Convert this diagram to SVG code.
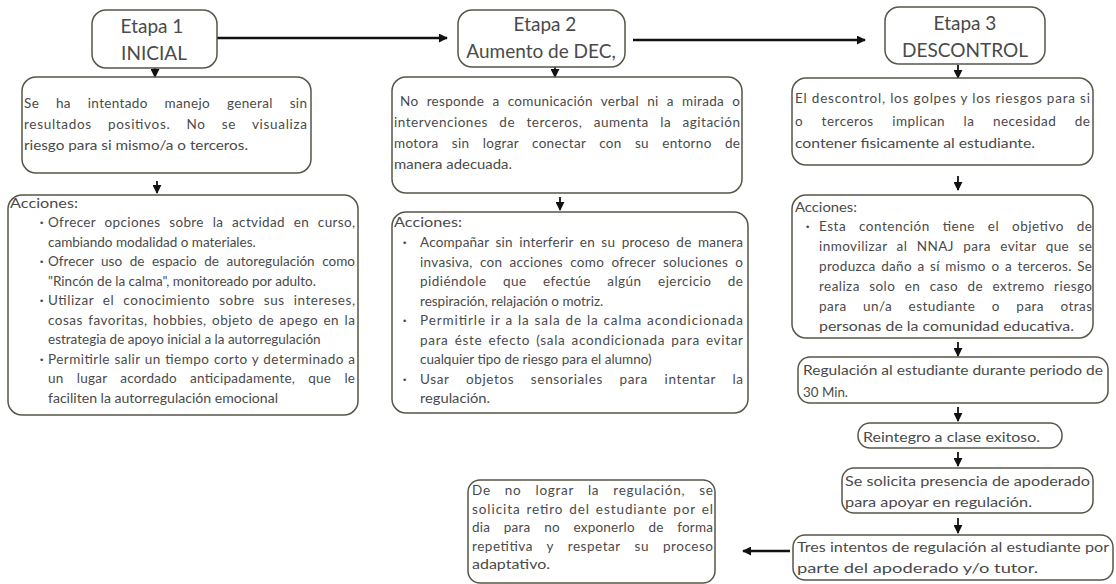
<svg xmlns="http://www.w3.org/2000/svg" width="1116" height="584" viewBox="0 0 1116 584">
<style>
.box{fill:#fff;stroke:#56564a;stroke-width:1.5}
.t{font-family:Lato,"Liberation Sans",sans-serif;font-size:13.5px;fill:#4a4a4a}
.h{font-family:Lato,"Liberation Sans",sans-serif;font-size:19px;fill:#4a4a4a;text-anchor:middle}
.b{font-family:"DejaVu Sans",sans-serif;font-size:9px;fill:#4a4a4a}
.c{stroke:#111;fill:none;marker-end:url(#ah)}
</style>
<defs>
<marker id="ah" viewBox="0 0 10 10" refX="9" refY="5" markerWidth="9" markerHeight="9" markerUnits="userSpaceOnUse" orient="auto">
<path d="M0,0 L10,5 L0,10 z" fill="#111"/>
</marker>
</defs>
<rect width="1116" height="584" fill="#fff"/>
<g id="connectors">
<line class="c" x1="217" y1="38" x2="447" y2="38" stroke-width="2.5"/>
<line class="c" x1="633" y1="40" x2="865" y2="40" stroke-width="2.5"/>
<line class="c" x1="155" y1="68" x2="155" y2="77" stroke-width="1.8"/>
<line class="c" x1="157" y1="181" x2="157" y2="193" stroke-width="1.8"/>
<line class="c" x1="555" y1="67" x2="555" y2="77" stroke-width="1.8"/>
<line class="c" x1="560" y1="197" x2="560" y2="210" stroke-width="1.8"/>
<line class="c" x1="958" y1="65" x2="958" y2="78" stroke-width="1.8"/>
<line class="c" x1="958" y1="176" x2="958" y2="190" stroke-width="1.8"/>
<line class="c" x1="958" y1="342" x2="958" y2="356" stroke-width="1.8"/>
<line class="c" x1="958" y1="407" x2="958" y2="421" stroke-width="1.8"/>
<line class="c" x1="958" y1="452" x2="958" y2="466" stroke-width="1.8"/>
<line class="c" x1="958" y1="518" x2="958" y2="533" stroke-width="1.8"/>
<line class="c" x1="790" y1="551" x2="743" y2="551" stroke-width="2.5"/>
</g>
<g id="etapa1">
<rect class="box" x="92" y="10" width="125" height="58" rx="14"/>
<text class="h" x="152" y="33">Etapa 1</text>
<text class="h" x="154" y="60">INICIAL</text>
</g>
<g id="etapa2">
<rect class="box" x="458" y="10" width="167" height="57" rx="14"/>
<text class="h" x="545" y="31">Etapa 2</text>
<text class="h" x="541" y="58">Aumento de DEC,</text>
</g>
<g id="etapa3">
<rect class="box" x="885" y="7" width="160" height="57" rx="14"/>
<text class="h" x="965" y="30">Etapa 3</text>
<text class="h" x="965" y="57">DESCONTROL</text>
</g>
<g id="desc1">
<rect class="box" x="22" y="77" width="289" height="96" rx="14"/>
<text class="t" x="24" y="108" textLength="283" word-spacing="13">Se ha intentado manejo general sin</text>
<text class="t" x="24" y="129" textLength="283" word-spacing="12">resultados positivos. No se visualiza</text>
<text class="t" x="24" y="150" textLength="224" lengthAdjust="spacingAndGlyphs">riesgo para si mismo/a o terceros.</text>
</g>
<g id="acciones1">
<rect class="box" x="8" y="195" width="350" height="220" rx="14"/>
<text class="t" x="10" y="208" textLength="68" lengthAdjust="spacingAndGlyphs">Acciones:</text>
<text class="b" x="39" y="226">•</text>
<text class="t" x="48" y="227" textLength="307" word-spacing="5">Ofrecer opciones sobre la actvidad en curso,</text>
<text class="t" x="48" y="246.5">cambiando modalidad o materiales.</text>
<text class="b" x="39" y="265">•</text>
<text class="t" x="48" y="266" textLength="307" word-spacing="4">Ofrecer uso de espacio de autoregulación como</text>
<text class="t" x="48" y="285.5">"Rincón de la calma", monitoreado por adulto.</text>
<text class="b" x="39" y="304">•</text>
<text class="t" x="48" y="305" textLength="307" word-spacing="5">Utilizar el conocimiento sobre sus intereses,</text>
<text class="t" x="48" y="324.5" textLength="307" word-spacing="1.5">cosas favoritas, hobbies, objeto de apego en la</text>
<text class="t" x="48" y="344">estrategia de apoyo inicial a la autorregulación</text>
<text class="b" x="39" y="362.5">•</text>
<text class="t" x="48" y="363.5" textLength="307" word-spacing="0.5">Permitirle salir un tiempo corto y determinado a</text>
<text class="t" x="48" y="383" textLength="307" word-spacing="9.5">un lugar acordado anticipadamente, que le</text>
<text class="t" x="48" y="402.5" textLength="230" lengthAdjust="spacingAndGlyphs">faciliten la autorregulación emocional</text>
</g>
<g id="desc2">
<rect class="box" x="392" y="77" width="350" height="116" rx="14"/>
<text class="t" x="400" y="106" textLength="340" word-spacing="4.5">No responde a comunicación verbal ni a mirada o</text>
<text class="t" x="394" y="127" textLength="346" word-spacing="7.5">intervenciones de terceros, aumenta la agitación</text>
<text class="t" x="394" y="148" textLength="346" word-spacing="9.5">motora sin lograr conectar con su entorno de</text>
<text class="t" x="394" y="169" textLength="118" lengthAdjust="spacingAndGlyphs">manera adecuada.</text>
</g>
<g id="acciones2">
<rect class="box" x="392" y="212" width="356" height="201" rx="14"/>
<text class="t" x="394" y="227" textLength="68" lengthAdjust="spacingAndGlyphs">Acciones:</text>
<text class="b" x="402" y="246">•</text>
<text class="t" x="420" y="247" textLength="323" word-spacing="2.8">Acompañar sin interferir en su proceso de manera</text>
<text class="t" x="420" y="266.5" textLength="323" word-spacing="3.5">invasiva, con acciones como ofrecer soluciones o</text>
<text class="t" x="420" y="286" textLength="323" word-spacing="12.5">pidiéndole que efectúe algún ejercicio de</text>
<text class="t" x="420" y="305.5">respiración, relajación o motriz.</text>
<text class="b" x="402" y="324">•</text>
<text class="t" x="420" y="325" textLength="323" word-spacing="0.5">Permitirle ir a la sala de la  calma acondicionada</text>
<text class="t" x="420" y="344.5" textLength="323" word-spacing="2">para éste efecto  (sala acondicionada para evitar</text>
<text class="t" x="420" y="364">cualquier tipo de riesgo para el alumno)</text>
<text class="b" x="402" y="382.5">•</text>
<text class="t" x="420" y="383.5" textLength="323" word-spacing="12.5">Usar objetos sensoriales para intentar la</text>
<text class="t" x="420" y="403" textLength="70" lengthAdjust="spacingAndGlyphs">regulación.</text>
</g>
<g id="desc3">
<rect class="box" x="792" y="78" width="301" height="87" rx="14"/>
<text class="t" x="795" y="103" textLength="295" word-spacing="0">El descontrol, los golpes y los riesgos para si</text>
<text class="t" x="795" y="126" textLength="295" word-spacing="14.5">o terceros implican la necesidad de</text>
<text class="t" x="795" y="148" textLength="240" lengthAdjust="spacingAndGlyphs">contener fisicamente al estudiante.</text>
</g>
<g id="acciones3">
<rect class="box" x="792" y="195" width="301" height="143" rx="14"/>
<text class="t" x="795" y="212" textLength="62" lengthAdjust="spacingAndGlyphs">Acciones:</text>
<text class="b" x="805" y="230">•</text>
<text class="t" x="819" y="231" textLength="273" word-spacing="9">Esta contención tiene el objetivo de</text>
<text class="t" x="819" y="251" textLength="273" word-spacing="5.5">inmovilizar al NNAJ para evitar que se</text>
<text class="t" x="819" y="271" textLength="273" word-spacing="1.8">produzca daño a sí mismo o a terceros. Se</text>
<text class="t" x="819" y="291" textLength="273" word-spacing="5.5">realiza solo en caso de extremo riesgo</text>
<text class="t" x="819" y="311" textLength="273" word-spacing="12.5">para un/a estudiante o para otras</text>
<text class="t" x="819" y="331" textLength="255" lengthAdjust="spacingAndGlyphs">personas de la comunidad educativa.</text>
</g>
<g id="regulacion">
<rect class="box" x="798" y="357" width="310" height="46" rx="12"/>
<text class="t" x="803" y="375" textLength="300" lengthAdjust="spacingAndGlyphs">Regulación al estudiante durante periodo de</text>
<text class="t" x="803" y="397" textLength="45" lengthAdjust="spacingAndGlyphs">30 Min.</text>
</g>
<g id="reintegro">
<rect class="box" x="858" y="423" width="204" height="25" rx="12"/>
<text class="t" x="863" y="442" textLength="177" lengthAdjust="spacingAndGlyphs">Reintegro a clase exitoso.</text>
</g>
<g id="apoderado">
<rect class="box" x="842" y="468" width="251" height="45" rx="12"/>
<text class="t" x="845" y="486" textLength="245" lengthAdjust="spacingAndGlyphs">Se solicita presencia de apoderado</text>
<text class="t" x="845" y="507" textLength="187" lengthAdjust="spacingAndGlyphs">para apoyar en regulación.</text>
</g>
<g id="intentos">
<rect class="box" x="793" y="535" width="320" height="45" rx="12"/>
<text class="t" x="797" y="552" textLength="312" lengthAdjust="spacingAndGlyphs">Tres intentos de regulación al estudiante por</text>
<text class="t" x="797" y="573" textLength="241" lengthAdjust="spacingAndGlyphs">parte del apoderado y/o tutor.</text>
</g>
<g id="retiro">
<rect class="box" x="468" y="480" width="247" height="103" rx="12"/>
<text class="t" x="472" y="495" textLength="241" word-spacing="10">De no lograr la regulación, se</text>
<text class="t" x="472" y="513.5" textLength="241" word-spacing="1.5">solicita retiro del estudiante por el</text>
<text class="t" x="472" y="532" textLength="241" word-spacing="10">dia para no exponerlo de forma</text>
<text class="t" x="472" y="550.5" textLength="241" word-spacing="10">repetitiva y respetar su proceso</text>
<text class="t" x="472" y="569" textLength="78" lengthAdjust="spacingAndGlyphs">adaptativo.</text>
</g>
</svg>
